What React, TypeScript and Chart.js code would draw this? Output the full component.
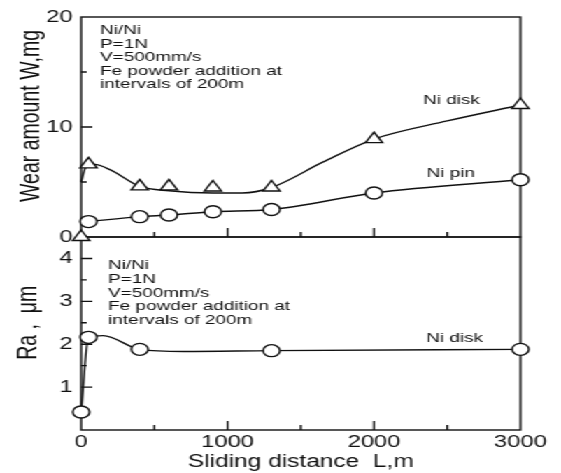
import React, { useEffect, useRef } from "react";
import { Chart, registerables } from "chart.js";

Chart.register(...registerables);

// ---- axis ticks ----
const DISTANCE_TICKS = [0, 1000, 2000, 3000];
const DISTANCE_MAJOR_MARKS = [1000, 2000];
const DISTANCE_MINOR_MARKS = [500, 1500, 2500];
const WEAR_TICKS = [0, 10, 20];
const WEAR_MAJOR_MARKS = [10];
const WEAR_MINOR_MARKS = [5, 15];
const RA_TICKS = [1, 2, 3, 4];
const RA_MINOR_MARKS = [0.5, 1.5, 2.5, 3.5];

// ---- wear amount, Ni disk (triangles) ----
const DISK_X = [0, 50, 400, 600, 900, 1300, 2000, 3000];
const DISK_W = [0, 6.6, 4.6, 4.6, 4.5, 4.5, 8.9, 12.0];
// fitted curve through the Ni disk wear points
const DISK_CURVE_X = [0, 30, 90, 200, 400, 600, 900, 1100, 1300, 1650, 2000, 2500, 3000];
const DISK_CURVE_W = [5.0, 6.3, 6.6, 6.1, 4.6, 4.2, 4.0, 4.0, 4.5, 6.8, 8.9, 10.55, 12.0];

// ---- wear amount, Ni pin (circles) ----
const PIN_X = [50, 400, 600, 900, 1300, 2000, 3000];
const PIN_W = [1.4, 1.85, 2.0, 2.3, 2.5, 4.0, 5.2];

// ---- surface roughness Ra, Ni disk (circles) ----
const RA_X = [0, 50, 400, 1300, 3000];
const RA_V = [0.42, 2.16, 1.88, 1.85, 1.88];
const RA_CURVE_X = [0, 50, 150, 400, 700, 1300, 3000];
const RA_CURVE_V = [0.42, 2.16, 2.2, 1.88, 1.83, 1.85, 1.88];

const CONDITIONS = [
  "Ni/Ni",
  "P=1N",
  "V=500mm/s",
  "Fe powder addition at",
  "intervals of 200m",
];

const FONT = '"Liberation Sans", Arial, Helvetica, sans-serif';
const INK = "#111111";
const W0 = 401;
const H0 = 473;
const STRETCH = 561 / W0;

const pts = (xs: number[], ys: number[]) => xs.map((x, i) => ({ x, y: ys[i] }));

const decorPlugin = {
  id: "decor",
  beforeDatasetsDraw(chart: any) {
    const ctx = chart.ctx as CanvasRenderingContext2D;
    const x = chart.scales.x;
    const yW = chart.scales.yW;
    const yR = chart.scales.yRa;
    ctx.save();
    ctx.strokeStyle = INK;
    ctx.lineWidth = 1.4;
    // panel frames
    for (const s of [yW, yR]) {
      ctx.strokeRect(x.left, s.top, x.right - x.left, s.bottom - s.top);
    }
    ctx.beginPath();
    const yTicks = (s: any, vals: number[], len: number) =>
      vals.forEach((v) => {
        const p = s.getPixelForValue(v);
        ctx.moveTo(x.left, p);
        ctx.lineTo(x.left + len, p);
      });
    yTicks(yW, WEAR_MAJOR_MARKS, 8);
    yTicks(yW, WEAR_MINOR_MARKS, 4);
    yTicks(yR, RA_TICKS, 8);
    yTicks(yR, RA_MINOR_MARKS, 4);
    const xTicks = (s: any, vals: number[], len: number) =>
      vals.forEach((v) => {
        const p = x.getPixelForValue(v);
        ctx.moveTo(p, s.bottom);
        ctx.lineTo(p, s.bottom - len);
      });
    for (const s of [yW, yR]) {
      xTicks(s, DISTANCE_MAJOR_MARKS, 9);
      xTicks(s, DISTANCE_MINOR_MARKS, 5);
    }
    ctx.stroke();

    // y-axis titles
    ctx.fillStyle = INK;
    ctx.font = `19.5px ${FONT}`;
    ctx.textAlign = "center";
    ctx.textBaseline = "middle";
    const vTitle = (text: string, cx: number, cy: number) => {
      ctx.save();
      ctx.translate(cx, cy);
      ctx.rotate(-Math.PI / 2);
      ctx.fillText(text, 0, 0);
      ctx.restore();
    };
    vTitle("Wear amount W,mg", 23, yW.getPixelForValue(11.0));
    vTitle("Ra ,  \u03bcm", 21, yR.getPixelForValue(2.5));
    ctx.restore();
  },
  afterDatasetsDraw(chart: any) {
    const ctx = chart.ctx as CanvasRenderingContext2D;
    const x = chart.scales.x;
    const yW = chart.scales.yW;
    const yR = chart.scales.yRa;
    ctx.save();
    ctx.fillStyle = INK;
    ctx.font = `13.5px ${FONT}`;
    ctx.textBaseline = "middle";
    ctx.textAlign = "left";
    const block = (x0: number, y0: number) =>
      CONDITIONS.forEach((t, i) => ctx.fillText(t, x0, y0 + i * 13.6));
    block(x.getPixelForValue(130), yW.getPixelForValue(18.8));
    block(x.getPixelForValue(185), yR.getPixelForValue(3.83));
    ctx.textAlign = "center";
    ctx.fillText("Ni disk", x.getPixelForValue(2530), yW.getPixelForValue(12.45));
    ctx.fillText("Ni pin", x.getPixelForValue(2525), yW.getPixelForValue(5.8));
    ctx.fillText("Ni disk", x.getPixelForValue(2550), yR.getPixelForValue(2.15));
    ctx.restore();
  },
};

export default function App() {
  const ref = useRef<HTMLCanvasElement>(null);

  useEffect(() => {
    const canvas = ref.current;
    if (!canvas) return;
    const marker = {
      pointBackgroundColor: "#ffffff",
      pointBorderColor: INK,
      pointBorderWidth: 1.4,
      borderColor: INK,
      borderWidth: 1.4,
    };
    const tickFont = { family: FONT, size: 17 };
    const plain = (v: any) => String(v);
    const chart = new Chart(canvas, {
      type: "line",
      data: {
        datasets: [
          {
            label: "Ni disk wear",
            data: pts(DISK_X, DISK_W),
            yAxisID: "yW",
            showLine: false,
            pointStyle: "triangle",
            pointRadius: 7,
            ...marker,
          },
          {
            label: "Ni pin wear",
            data: pts(PIN_X, PIN_W),
            yAxisID: "yW",
            pointStyle: "circle",
            pointRadius: 6,
            cubicInterpolationMode: "monotone",
            ...marker,
          },
          {
            label: "Ni disk Ra",
            data: pts(RA_X, RA_V),
            yAxisID: "yRa",
            showLine: false,
            pointStyle: "circle",
            pointRadius: 6,
            ...marker,
          },
          {
            label: "Ni disk wear curve",
            data: pts(DISK_CURVE_X, DISK_CURVE_W),
            yAxisID: "yW",
            pointRadius: 0,
            borderColor: INK,
            borderWidth: 1.4,
            cubicInterpolationMode: "monotone",
          },
          {
            label: "Ni disk Ra curve",
            data: pts(RA_CURVE_X, RA_CURVE_V),
            yAxisID: "yRa",
            pointRadius: 0,
            borderColor: INK,
            borderWidth: 1.4,
            cubicInterpolationMode: "monotone",
          },
        ],
      },
      options: {
        responsive: false,
        devicePixelRatio: 1,
        animation: false,
        clip: false as any,
        layout: { padding: { left: 0, right: 29, top: 17, bottom: 0 } },
        plugins: { legend: { display: false }, tooltip: { enabled: false } },
        scales: {
          x: {
            type: "linear",
            position: "bottom",
            min: 0,
            max: 3000,
            afterBuildTicks: (s: any) => {
              s.ticks = DISTANCE_TICKS.map((v) => ({ value: v }));
            },
            afterFit: (s: any) => {
              s.height = 43;
            },
            grid: { display: false, drawTicks: false },
            border: { display: false },
            ticks: { font: tickFont, color: INK, padding: 2, maxRotation: 0, callback: plain },
            title: {
              display: true,
              text: "Sliding distance  L,m",
              font: { family: FONT, size: 17.5 },
              color: INK,
              padding: 0,
            },
          },
          yW: {
            type: "linear",
            position: "left",
            stack: "panels",
            stackWeight: 220,
            weight: 2,
            min: 0,
            max: 20,
            afterBuildTicks: (s: any) => {
              s.ticks = WEAR_TICKS.map((v) => ({ value: v }));
            },
            afterFit: (s: any) => {
              s.width = 58;
            },
            grid: { display: false, drawTicks: false },
            border: { display: false },
            ticks: { font: tickFont, color: INK, padding: 6, callback: plain },
          },
          yRa: {
            type: "linear",
            position: "left",
            stack: "panels",
            stackWeight: 193,
            weight: 1,
            min: 0,
            max: 4.5,
            afterBuildTicks: (s: any) => {
              s.ticks = RA_TICKS.map((v) => ({ value: v }));
            },
            afterFit: (s: any) => {
              s.width = 58;
            },
            grid: { display: false, drawTicks: false },
            border: { display: false },
            ticks: { font: tickFont, color: INK, padding: 6, callback: plain },
          },
        },
      } as any,
      plugins: [decorPlugin],
    });
    return () => chart.destroy();
  }, []);

  return (
    <div
      style={{
        position: "fixed",
        left: 0,
        top: 0,
        width: W0,
        height: H0,
        background: "#ffffff",
        transform: `scaleX(${STRETCH})`,
        transformOrigin: "0 0",
      }}
    >
      <canvas ref={ref} width={W0} height={H0} style={{ display: "block", width: W0, height: H0 }} />
    </div>
  );
}
